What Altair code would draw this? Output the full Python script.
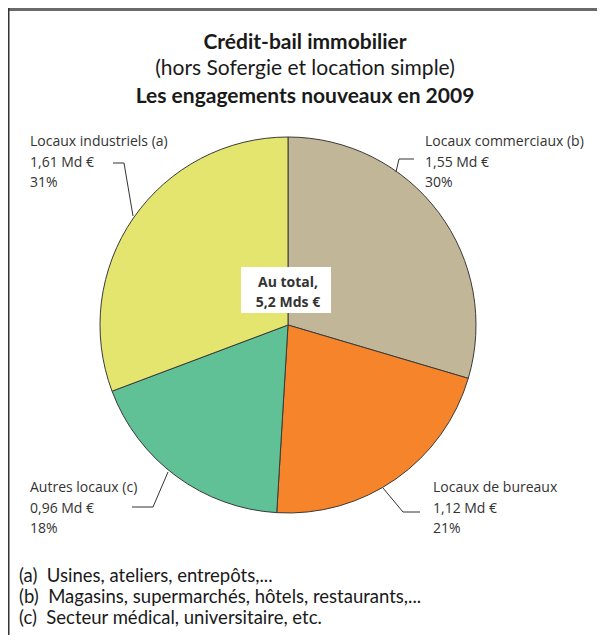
import altair as alt
import pandas as pd

# ---- data ----
categories = ["Locaux commerciaux (b)", "Locaux de bureaux", "Autres locaux (c)", "Locaux industriels (a)"]
values = [1.55, 1.12, 0.96, 1.61]          # Md €
percents = [30, 21, 18, 31]
colors = ["#C1B697", "#F5842B", "#5FC195", "#E3E56F"]

title_lines = ["Crédit-bail immobilier", "(hors Sofergie et location simple)", "Les engagements nouveaux en 2009"]
title_bold = [True, False, True]
footnotes = ["(a)\u00a0 Usines, ateliers, entrepôts,...",
             "(b)\u00a0 Magasins, supermarchés, hôtels, restaurants,...",
             "(c)\u00a0 Secteur médical, universitaire, etc."]

# ---- layout (chart pixel coordinates; page adds 8px margin) ----
OFF = 8
W, H = 589, 627
CX, CY, R = 288 - OFF, 325 - OFF, 188
label_pos = [(425, 146), (433, 492), (30, 492), (30, 146)]   # first-line baselines (reference px)
leaders = [
    [(414, 159), (399, 159), (396, 172)],
    [(420, 512), (403, 512), (383, 488)],
    [(132, 507), (153, 507), (168, 472)],
    [(113, 163), (124, 163), (133, 216)],
]
title_y = [49, 75, 103]
foot_y = [582, 603, 624]

def fr(v, d):
    return f"{v:.{d}f}".replace(".", ",")

df = pd.DataFrame({
    "cat": categories,
    "value": values,
    "idx": list(range(len(categories))),
    "label": [f"{c}\n{fr(v, 2)} Md €\n{p}%" for c, v, p in zip(categories, values, percents)],
    "lx": [p[0] - OFF for p in label_pos],
    "ly": [p[1] - OFF for p in label_pos],
})

pie = alt.Chart(df).mark_arc(outerRadius=R, stroke="#3a3a3a", strokeWidth=1).encode(
    theta=alt.Theta("value:Q", stack=True),
    color=alt.Color("cat:N", scale=alt.Scale(domain=categories, range=colors), legend=None),
    order=alt.Order("idx:Q"),
    x=alt.value(CX), y=alt.value(CY),
)

labels = alt.Chart(df).mark_text(
    align="left", baseline="alphabetic", lineBreak="\n", lineHeight=20.5,
    font="Open Sans", fontSize=14, color="#333333",
).encode(
    x=alt.X("lx:Q", scale=None, axis=None),
    y=alt.Y("ly:Q", scale=None, axis=None),
    text="label:N",
)

lead_rows = []
for i, seg in enumerate(leaders):
    for j, (x, y) in enumerate(seg):
        lead_rows.append({"id": i, "o": j, "x": x - OFF, "y": y - OFF})
lead = alt.Chart(pd.DataFrame(lead_rows)).mark_line(color="#333333", strokeWidth=1).encode(
    x=alt.X("x:Q", scale=None, axis=None),
    y=alt.Y("y:Q", scale=None, axis=None),
    detail="id:N",
    order="o:Q",
)

total = sum(values)
center_df = pd.DataFrame({"t": [f"Au total,\n{fr(total, 1)} Mds €"]})
box = alt.Chart(center_df).mark_rect(fill="white").encode(
    x=alt.value(241 - OFF), x2=alt.value(331 - OFF),
    y=alt.value(267 - OFF), y2=alt.value(313 - OFF),
)
center_txt = alt.Chart(center_df).mark_text(
    align="center", baseline="alphabetic", lineBreak="\n", lineHeight=20,
    font="Open Sans", fontWeight="bold", fontSize=14, color="#333333",
).encode(x=alt.value(288 - OFF), y=alt.value(287 - OFF), text="t:N")

tdf = pd.DataFrame({
    "t": title_lines,
    "y": [v - OFF for v in title_y],
    "b": title_bold,
})
title_bold_m = alt.Chart(tdf[tdf.b]).mark_text(
    align="center", baseline="alphabetic", font="Lato", fontSize=21, fontWeight="bold", color="#1a1a1a",
).encode(x=alt.value(305 - OFF), y=alt.Y("y:Q", scale=None, axis=None), text="t:N")
title_reg_m = alt.Chart(tdf[~tdf.b]).mark_text(
    align="center", baseline="alphabetic", font="Lato", fontSize=21, color="#1a1a1a",
).encode(x=alt.value(305 - OFF), y=alt.Y("y:Q", scale=None, axis=None), text="t:N")

fdf = pd.DataFrame({"t": footnotes, "y": [v - OFF for v in foot_y]})
foot = alt.Chart(fdf).mark_text(
    align="left", baseline="alphabetic", font="Lato", fontSize=18.5, color="#1a1a1a",
).encode(x=alt.value(19 - OFF), y=alt.Y("y:Q", scale=None, axis=None), text="t:N")

border_df = pd.DataFrame({"a": [0]})
top_line = alt.Chart(border_df).mark_rule(color="#6a6a6a", strokeWidth=3).encode(
    x=alt.value(0), x2=alt.value(W), y=alt.value(1.5))
left_line = alt.Chart(border_df).mark_rule(color="#333333", strokeWidth=1.5).encode(
    x=alt.value(0.75), y=alt.value(0), y2=alt.value(H))

chart = alt.layer(
    pie, box, center_txt, lead, labels, title_bold_m, title_reg_m, foot, top_line, left_line
).properties(
    width=W, height=H, padding=0, autosize="none", background="white"
).configure_view(stroke=None)

chart.save("out.html", embed_options={"renderer": "svg", "actions": False})
